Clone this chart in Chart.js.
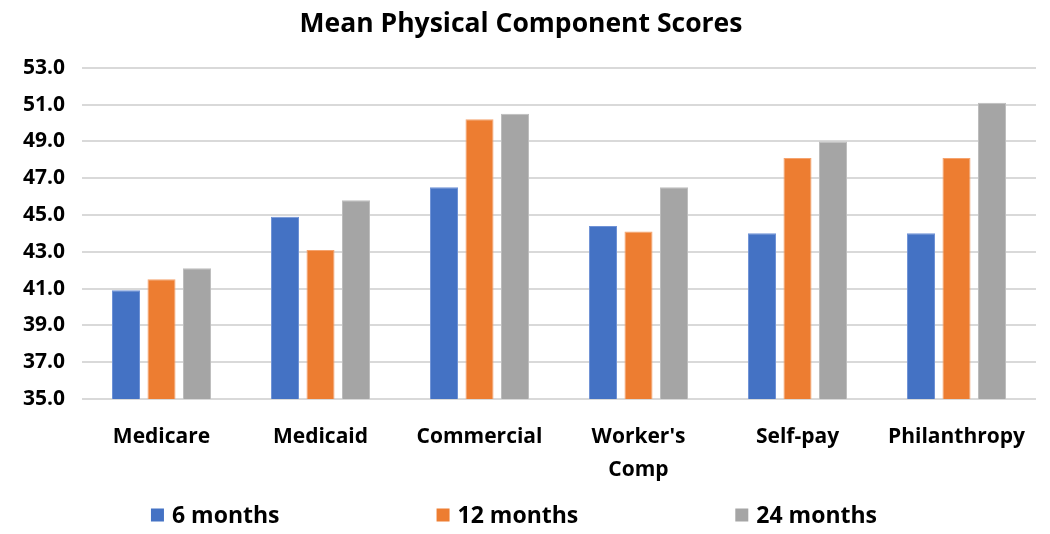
<!DOCTYPE html>
<html>
<head>
<meta charset="utf-8">
<script src="https://cdn.jsdelivr.net/npm/chart.js@4"></script>
<style>
  body { margin: 0; background: #fff; }
  #wrap { width: 1050px; height: 534px; }
</style>
</head>
<body>
<div id="wrap"><canvas id="scoreChart" width="1050" height="534"></canvas></div>
<script>
const categories = ['Medicare', 'Medicaid', 'Commercial', ["Worker's", 'Comp'], 'Self-pay', 'Philanthropy'];
const sixMonths = [40.9, 44.9, 46.5, 44.4, 44.0, 44.0];
const twelveMonths = [41.5, 43.1, 50.2, 44.1, 48.1, 48.1];
const twentyFourMonths = [42.1, 45.8, 50.5, 46.5, 49.0, 51.1];
const yTicks = [35, 37, 39, 41, 43, 45, 47, 49, 51, 53];

const fontFamily = '"Open Sans", Lato, sans-serif';

function makeSet(label, data, color, border) {
    return {
        label: label,
        data: data,
        backgroundColor: color,
        borderColor: border,
        borderWidth: 1,
        barPercentage: 0.79,
        categoryPercentage: 0.67
    };
}

// legend drawn by hand so the items can sit far apart without the
// built-in legend eating vertical space
const spacedLegend = {
    id: 'spacedLegend',
    afterDraw(chart) {
        const c = chart.ctx;
        const box = 13, gap = 8, itemGap = 157, y = 515;
        c.save();
        c.font = 'bold 23px ' + fontFamily;
        c.textBaseline = 'middle';
        const sets = chart.data.datasets;
        const widths = sets.map(ds => box + gap + c.measureText(ds.label).width);
        const total = widths.reduce((a, b) => a + b, 0) + itemGap * (sets.length - 1);
        let x = 514 - total / 2;
        sets.forEach((ds, i) => {
            c.fillStyle = ds.backgroundColor;
            c.fillRect(x, y - box / 2, box, box);
            c.fillStyle = '#000';
            c.fillText(ds.label, x + box + gap, y + 1);
            x += widths[i] + itemGap;
        });
        c.restore();
    }
};

const ctx = document.getElementById('scoreChart').getContext('2d');
const chart = new Chart(ctx, {
    type: 'bar',
    data: {
        labels: categories,
        datasets: [
            makeSet('6 months', sixMonths, '#4472C4', '#6f92d6'),
            makeSet('12 months', twelveMonths, '#ED7D31', '#f5a36e'),
            makeSet('24 months', twentyFourMonths, '#A5A5A5', '#bdbdbd')
        ]
    },
    plugins: [spacedLegend],
    options: {
        responsive: false,
        animation: false,
        layout: { padding: { left: 6, right: 14, top: 0, bottom: 34 } },
        plugins: {
            title: {
                display: true,
                text: 'Mean Physical Component Scores',
                color: '#000',
                font: { family: fontFamily, size: 26.5, weight: 'bold' },
                padding: { top: 9, bottom: 27 }
            },
            legend: { display: false },
            tooltip: { enabled: false }
        },
        scales: {
            x: {
                grid: { display: false },
                border: { display: false },
                ticks: {
                    color: '#000',
                    font: { family: fontFamily, size: 21, weight: 'bold', lineHeight: 1.55 },
                    padding: 14,
                    maxRotation: 0,
                    autoSkip: false
                }
            },
            y: {
                min: 35,
                max: 53,
                afterBuildTicks: axis => { axis.ticks = yTicks.map(v => ({ value: v })); },
                grid: { color: '#d9d9d9', lineWidth: 2, drawTicks: false },
                border: { display: false },
                ticks: {
                    color: '#000',
                    autoSkip: false,
                    font: { family: fontFamily, size: 21, weight: 'bold' },
                    padding: 17,
                    callback: v => Number(v).toFixed(1)
                }
            }
        }
    }
});
</script>
</body>
</html>
